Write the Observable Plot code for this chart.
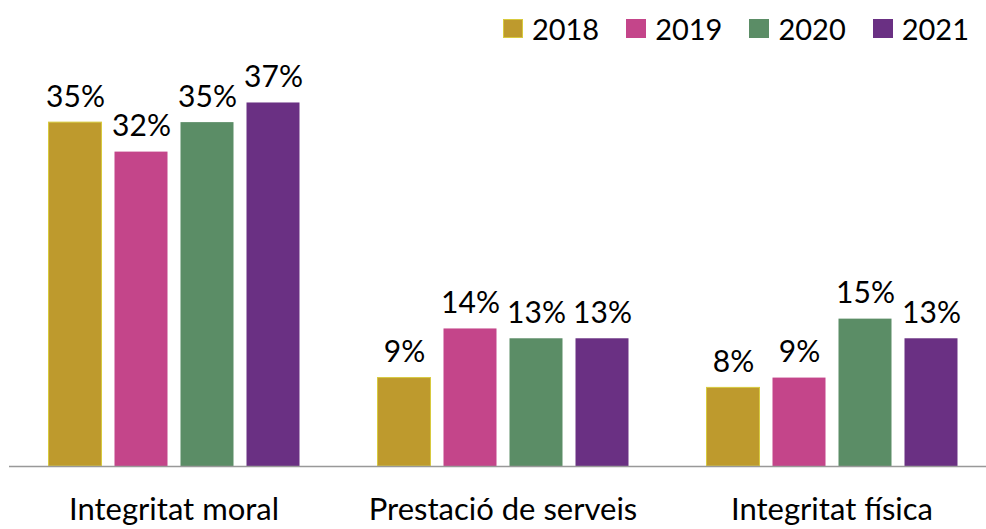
<!DOCTYPE html>
<html>
<head>
<meta charset="utf-8">
<script src="https://cdn.jsdelivr.net/npm/d3@7"></script>
<script src="https://cdn.jsdelivr.net/npm/@observablehq/plot@0.6"></script>
<style>
  html, body { margin: 0; padding: 0; background: #fff; }
  #wrap { position: relative; width: 986px; height: 529px; overflow: hidden; font-family: Lato, sans-serif; }
  #legend { position: absolute; top: 11px; right: 17px; display: flex; align-items: center; font-size: 29px; color: #000; }
  .item { display: flex; align-items: center; margin-left: 27px; }
  .item:first-child { margin-left: 0; }
  .sw { width: 20px; height: 19px; margin-right: 9px; box-sizing: border-box; }
  svg { display: block; }
</style>
</head>
<body>
<div id="wrap">
  <div id="chart"></div>
  <div id="legend"></div>
</div>
<script>
const categories = ["Integritat moral", "Prestació de serveis", "Integritat física"];
const years = ["2018", "2019", "2020", "2021"];
const values2018 = [35, 9, 8];
const values2019 = [32, 14, 9];
const values2020 = [35, 13, 15];
const values2021 = [37, 13, 13];
const colors = ["#BE9A2D", "#C4458A", "#5B8D66", "#6A3083"];

const series = [values2018, values2019, values2020, values2021];
const data = years.flatMap((year, i) =>
  categories.map((category, j) => ({category, year, value: series[i][j]}))
);

const chart = Plot.plot({
  width: 986,
  height: 529,
  marginLeft: 8.5,
  marginRight: -9.5,
  marginTop: 73,
  marginBottom: 63,
  style: {fontFamily: "Lato, sans-serif", fontSize: "30px", color: "#000", background: "transparent"},
  fx: {domain: categories, padding: 0, label: null, axis: null},
  x: {domain: years, paddingInner: 0.2, paddingOuter: 0.59, axis: null},
  y: {domain: [0, 40], axis: null},
  color: {domain: years, range: colors},
  marks: [
    Plot.barY(data, {fx: "category", x: "year", y: "value", fill: "year"}),
    Plot.barY(data, {fx: "category", x: "year", y: "value", filter: d => d.year === "2018", fill: "none", stroke: "#D8CA3E", strokeWidth: 1}),
    Plot.ruleY([0], {stroke: "#999", strokeWidth: 1.5}),
    Plot.text(data, {fx: "category", x: "year", y: "value", text: d => d.value + "%", dy: -16, lineAnchor: "bottom", fontSize: 30, fill: "#000"}),
    Plot.axisFx({anchor: "bottom", label: null, tickSize: 0, tickPadding: 31, fontSize: 31, fill: "#000"})
  ]
});
document.getElementById("chart").appendChild(chart);

const legend = document.getElementById("legend");
years.forEach((y, i) => {
  const item = document.createElement("div");
  item.className = "item";
  const sw = document.createElement("div");
  sw.className = "sw";
  sw.style.background = colors[i];
  if (i === 0) sw.style.border = "1.5px solid #D8CA3E";
  const t = document.createElement("span");
  t.textContent = y;
  item.appendChild(sw);
  item.appendChild(t);
  legend.appendChild(item);
});
</script>
</body>
</html>
